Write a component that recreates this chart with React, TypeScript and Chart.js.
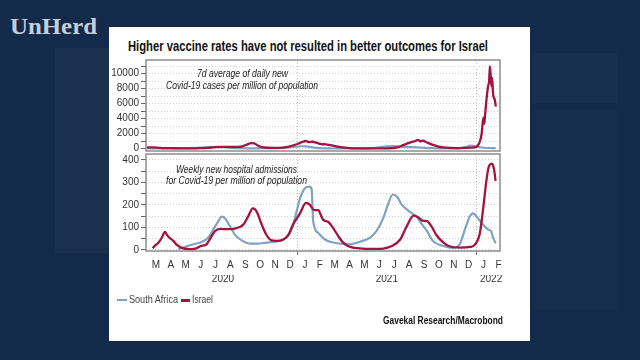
import React, { useEffect, useLayoutEffect, useRef } from "react";
import { Chart, registerables } from "chart.js";

Chart.register(...registerables);

// ---------- data ----------
const MONTH_LABELS = ["M", "A", "M", "J", "J", "A", "S", "O", "N", "D", "J", "F", "M", "A", "M", "J", "J", "A", "S", "O", "N", "D", "J", "F"];
const YEAR_LABELS = ["2020", "2021", "2022"];
const YEAR_CENTERS = [5, 16, 23]; // months since 1 Mar 2020
const YEAR_STARTS = [10, 22];
const CASE_TICKS = [0, 1000, 2000, 3000, 4000, 5000, 6000, 7000, 8000, 9000, 10000, 11000];
const HOSP_TICKS = [0, 50, 100, 150, 200, 250, 300, 350, 400];

// x = months since 1 March 2020
const CASES_IL_X = [-0.1, 0.3, 0.7, 1.0, 1.5, 2.0, 3.0, 3.5, 4.0, 4.5, 5.0, 5.5, 6.0, 6.3, 6.6, 6.9, 7.1, 7.3, 7.6, 8.0, 8.5, 9.0, 9.5, 10.0, 10.3, 10.55, 10.8, 11.0, 11.3, 11.6, 11.9, 12.2, 12.6, 13.0, 13.5, 14.0, 15.0, 15.8, 16.3, 16.7, 17.1, 17.5, 17.9, 18.1, 18.25, 18.4, 18.7, 19.0, 19.4, 19.8, 20.2, 20.8, 21.3, 21.7, 22.0, 22.2, 22.36, 22.45, 22.5, 22.55, 22.6, 22.7, 22.8, 22.87, 22.92, 22.97, 23.03, 23.07, 23.14, 23.25, 23.32];
const CASES_IL = [150, 160, 100, 60, 50, 20, 10, 40, 100, 180, 220, 200, 220, 300, 520, 720, 700, 450, 180, 100, 90, 130, 300, 600, 850, 1000, 850, 900, 750, 600, 550, 450, 300, 150, 60, 20, 10, 20, 50, 150, 450, 750, 1000, 1150, 950, 1050, 800, 550, 300, 150, 80, 60, 80, 120, 200, 700, 1870, 3600, 4100, 3300, 4500, 6700, 8300, 9000, 10950, 9850, 8300, 9400, 7200, 6500, 5600];

const CASES_SA_X = [-0.1, 1.0, 2.0, 3.0, 4.0, 4.5, 5.0, 5.5, 6.0, 7.0, 8.0, 9.0, 9.7, 10.3, 10.6, 11.0, 11.5, 12.5, 13.5, 14.5, 15.0, 15.5, 16.0, 16.4, 17.0, 17.7, 18.3, 19.0, 20.0, 20.8, 21.3, 21.6, 22.0, 22.5, 23.32];
const CASES_SA = [0, 20, 40, 80, 200, 220, 180, 120, 50, 30, 40, 80, 200, 300, 280, 150, 60, 25, 20, 30, 60, 150, 280, 330, 230, 180, 120, 40, 15, 20, 200, 380, 280, 100, 50];

const HOSP_IL_X = [0.28, 0.45, 0.66, 0.9, 1.1, 1.25, 1.4, 1.55, 1.67, 1.9, 2.2, 2.67, 3.2, 3.5, 3.9, 4.1, 4.46, 4.8, 5.3, 5.7, 5.95, 6.2, 6.4, 6.7, 7.0, 7.15, 7.3, 7.6, 7.93, 8.27, 8.6, 9.05, 9.4, 9.7, 10.17, 10.57, 10.84, 11.1, 11.4, 11.6, 11.73, 12.07, 12.4, 12.74, 13.07, 13.5, 14.2, 14.87, 15.76, 16.3, 16.9, 17.33, 17.8, 18.1, 18.44, 18.7, 19.0, 19.34, 19.8, 20.2, 20.9, 21.6, 21.9, 22.25, 22.47, 22.7, 22.85, 23.07, 23.2, 23.3];
const HOSP_IL = [7, 20, 32, 55, 80, 66, 54, 47, 40, 22, 10, 3, 7, 17, 25, 46, 83, 93, 92, 93, 98, 104, 115, 150, 184, 180, 165, 112, 65, 42, 40, 46, 68, 112, 162, 209, 200, 177, 177, 150, 133, 124, 97, 61, 32, 14, 7, 4, 6, 16, 46, 104, 152, 145, 129, 128, 104, 65, 32, 16, 10, 13, 22, 75, 184, 314, 370, 383, 358, 307];

const HOSP_SA_X = [2.0, 2.45, 3.0, 3.57, 4.0, 4.35, 4.7, 4.9, 5.13, 5.47, 5.8, 6.25, 6.8, 7.26, 7.93, 8.5, 9.05, 9.5, 9.83, 10.17, 10.5, 10.8, 10.95, 11.06, 11.4, 11.85, 12.2, 12.85, 13.5, 14.2, 14.87, 15.3, 15.76, 16.1, 16.4, 16.7, 17.0, 17.4, 17.7, 18.0, 18.3, 18.7, 19.1, 19.8, 20.45, 20.9, 21.24, 21.57, 21.8, 22.1, 22.47, 22.8, 23.0, 23.14, 23.3];
const HOSP_SA = [3, 13, 25, 35, 54, 90, 129, 148, 141, 104, 68, 42, 28, 28, 32, 36, 46, 75, 141, 228, 274, 281, 270, 126, 75, 46, 36, 28, 25, 36, 54, 83, 141, 206, 246, 235, 201, 177, 162, 148, 119, 83, 39, 17, 9, 25, 90, 148, 162, 141, 112, 90, 83, 54, 29];

// ---------- styling ----------
const FONT = "'Liberation Sans', Arial, sans-serif";
const RED = "#a3133e";
const BLUE = "#7fa3c3";
const X_MIN = -0.17;
const X_MAX = 23.6;

const pts = (xs: number[], ys: number[]) => xs.map((x, i) => ({ x, y: ys[i] }));
const isBoundary = (v: any) => typeof v === "number" && YEAR_STARTS.some((b) => Math.abs(b - v) < 1e-6);

const framePlugin = {
  id: "frame",
  afterDraw(chart: any) {
    const { ctx, chartArea: a } = chart;
    ctx.save();
    ctx.strokeStyle = "#8c8c8c";
    ctx.lineWidth = 1.5;
    ctx.strokeRect(a.left, a.top, a.right - a.left, a.bottom - a.top);
    ctx.restore();
  },
};

function monthAxis(showLabels: boolean) {
  return {
    type: "linear",
    min: X_MIN,
    max: X_MAX,
    position: "bottom",
    weight: 0,
    afterBuildTicks: (axis: any) => {
      const t = MONTH_LABELS.map((_, i) => ({ value: i + 0.5 })).concat(YEAR_STARTS.map((v) => ({ value: v })));
      t.sort((a, b) => a.value - b.value);
      axis.ticks = t;
    },
    afterFit: (axis: any) => {
      axis.paddingLeft = 0;
      axis.paddingRight = 0;
    },
    ticks: {
      display: showLabels,
      autoSkip: false,
      maxRotation: 0,
      minRotation: 0,
      padding: 4,
      color: "#333",
      font: { family: FONT, size: 10 },
      callback: (v: number) => (isBoundary(v) ? "" : MONTH_LABELS[Math.floor(v)]),
    },
    grid: {
      drawTicks: showLabels,
      tickLength: 4,
      lineWidth: 1,
      color: (c: any) => (c.tick && isBoundary(c.tick.value) ? "#bdbdbd" : "rgba(0,0,0,0)"),
      tickColor: (c: any) => (c.tick && isBoundary(c.tick.value) ? "#777" : "rgba(0,0,0,0)"),
    },
    border: { display: false, dash: [1, 2] },
  };
}

function yAxis(min: number, max: number, tickVals: number[], labelStep: number) {
  return {
    type: "linear",
    position: "left",
    min,
    max,
    afterBuildTicks: (axis: any) => {
      axis.ticks = tickVals.map((v) => ({ value: v }));
    },
    afterFit: (axis: any) => {
      axis.width = 38;
      axis.paddingTop = 0;
      axis.paddingBottom = 0;
    },
    ticks: {
      autoSkip: false,
      padding: 2,
      color: "#333",
      font: { family: FONT, size: 10 },
      callback: (v: number) => (v % labelStep === 0 ? String(v) : ""),
    },
    grid: { color: "#d0d0d0", lineWidth: 1, tickColor: "#666", tickLength: 5, tickBorderDash: [] },
    border: { display: false, dash: [1, 2] },
  };
}

function lineDatasets(ilX: number[], il: number[], saX: number[], sa: number[]) {
  return [
    {
      label: "Israel",
      data: pts(ilX, il),
      borderColor: RED,
      borderWidth: 2.3,
      pointRadius: 0,
      cubicInterpolationMode: "monotone",
      order: 0,
    },
    {
      label: "South Africa",
      data: pts(saX, sa),
      borderColor: BLUE,
      borderWidth: 2.2,
      pointRadius: 0,
      cubicInterpolationMode: "monotone",
      order: 1,
    },
  ];
}

function upperConfig(): any {
  return {
    type: "line",
    data: { datasets: lineDatasets(CASES_IL_X, CASES_IL, CASES_SA_X, CASES_SA) },
    options: {
      responsive: false,
      animation: false,
      layout: { padding: { left: 0, top: 5, right: 10, bottom: 3 } },
      plugins: { legend: { display: false }, tooltip: { enabled: false } },
      scales: { x: monthAxis(false), y: yAxis(-330, 11800, CASE_TICKS, 2000) },
    },
    plugins: [framePlugin],
  };
}

function lowerConfig(): any {
  return {
    type: "line",
    data: { datasets: lineDatasets(HOSP_IL_X, HOSP_IL, HOSP_SA_X, HOSP_SA) },
    options: {
      responsive: false,
      animation: false,
      layout: { padding: { left: 0, top: 4, right: 10, bottom: 2 } },
      plugins: { legend: { display: false }, tooltip: { enabled: false } },
      scales: {
        x: monthAxis(true),
        xYear: {
          type: "linear",
          min: X_MIN,
          max: X_MAX,
          position: "bottom",
          weight: 1,
          afterBuildTicks: (axis: any) => {
            axis.ticks = YEAR_CENTERS.map((v) => ({ value: v }));
          },
          afterFit: (axis: any) => {
            axis.paddingLeft = 0;
            axis.paddingRight = 0;
          },
          ticks: {
            autoSkip: false,
            maxRotation: 0,
            minRotation: 0,
            padding: -2,
            color: "#333",
            font: { family: FONT, size: 10 },
            callback: (_v: number, i: number) => YEAR_LABELS[i],
          },
          grid: { display: false, drawTicks: false, drawOnChartArea: false },
          border: { display: false },
        },
        y: yAxis(-5, 426, HOSP_TICKS, 100),
      },
    },
    plugins: [framePlugin],
  };
}

function PlotCanvas(props: { left: number; top: number; width: number; height: number; config: () => any }) {
  const ref = useRef<HTMLCanvasElement>(null);
  useEffect(() => {
    const chart = new Chart(ref.current as HTMLCanvasElement, props.config());
    return () => chart.destroy();
  }, []);
  return (
    <canvas
      ref={ref}
      width={props.width}
      height={props.height}
      style={{ position: "absolute", left: props.left, top: props.top, width: props.width, height: props.height, display: "block" }}
    />
  );
}

function FitText(props: {
  text: string;
  x: number;
  y: number;
  w: number;
  align?: "left" | "center" | "right";
  size: number;
  weight?: number | string;
  italic?: boolean;
  color?: string;
  family?: string;
}) {
  const ref = useRef<HTMLSpanElement>(null);
  useLayoutEffect(() => {
    const el = ref.current;
    if (!el) return;
    el.style.transform = "none";
    const nat = el.getBoundingClientRect().width;
    if (nat > 0) el.style.transform = `scaleX(${props.w / nat})`;
  }, [props.text, props.w]);
  const align = props.align || "left";
  const left = align === "center" ? props.x - props.w / 2 : align === "right" ? props.x - props.w : props.x;
  return (
    <span
      ref={ref}
      style={{
        position: "absolute",
        left,
        top: props.y - props.size * 0.6,
        fontSize: props.size,
        lineHeight: `${props.size * 1.2}px`,
        fontFamily: props.family || FONT,
        fontWeight: props.weight || "normal",
        fontStyle: props.italic ? "italic" : "normal",
        color: props.color || "#222",
        whiteSpace: "nowrap",
        display: "inline-block",
        transformOrigin: "left center",
      }}
    >
      {props.text}
    </span>
  );
}

export default function App() {
  return (
    <div
      style={{
        position: "fixed",
        left: 0,
        top: 0,
        width: 640,
        height: 360,
        overflow: "hidden",
        background: "#142a4a",
      }}
    >
      {/* faint background shapes */}
      <div style={{ position: "absolute", left: 55, top: 48, width: 60, height: 205, background: "rgba(255,255,255,0.03)" }} />
      <div style={{ position: "absolute", left: 533, top: 53, width: 84, height: 50, background: "rgba(255,255,255,0.025)" }} />
      <div style={{ position: "absolute", left: 533, top: 110, width: 84, height: 200, background: "rgba(255,255,255,0.015)" }} />

      <FitText text="UnHerd" x={10} y={26} w={87} size={24} weight="bold" color="#c6ced9" family="'Liberation Serif', 'DejaVu Serif', serif" />

      {/* white panel */}
      <div style={{ position: "absolute", left: 109, top: 27, width: 421, height: 314, background: "#ffffff" }} />

      <FitText text="Higher vaccine rates have not resulted in better outcomes for Israel" x={308} y={46} w={360} size={15} weight="bold" color="#111" align="center" />

      <PlotCanvas left={108} top={55} width={402} height={99} config={upperConfig} />
      <PlotCanvas left={108} top={150} width={402} height={135} config={lowerConfig} />

      <FitText text="7d average of daily new" x={242} y={74} w={91} size={11} italic color="#222" align="center" />
      <FitText text="Covid-19 cases per million of population" x={242} y={86} w={152} size={11} italic color="#222" align="center" />
      <FitText text="Weekly new hospital admissions" x={236} y={169.5} w={121} size={11} italic color="#222" align="center" />
      <FitText text="for Covid-19 per million of population" x={236} y={181} w={141} size={11} italic color="#222" align="center" />

      {/* legend */}
      <div style={{ position: "absolute", left: 117, top: 299, width: 10, height: 2, background: BLUE }} />
      <FitText text="South Africa" x={129} y={300} w={49} size={11} color="#444" />
      <div style={{ position: "absolute", left: 181, top: 298.5, width: 9, height: 3, background: RED }} />
      <FitText text="Israel" x={192} y={300} w={21} size={11} color="#444" />

      <FitText text="Gavekal Research/Macrobond" x={503} y={321} w={120} size={11} weight="bold" align="right" color="#111" />
    </div>
  );
}
